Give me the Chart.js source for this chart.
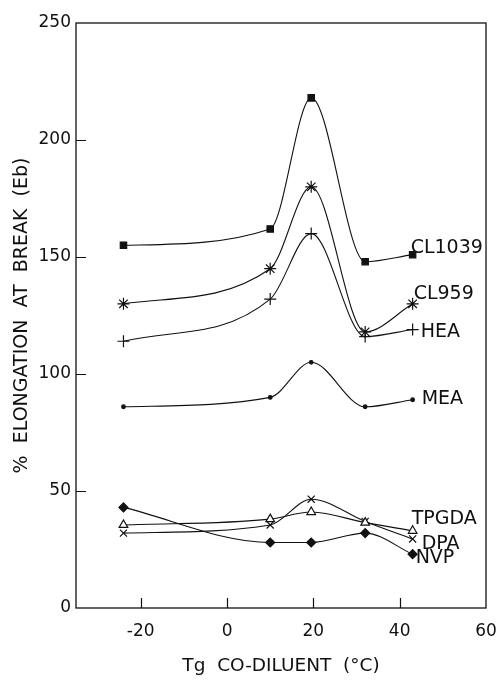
<!DOCTYPE html>
<html>
<head>
<meta charset="utf-8">
<script src="https://cdn.jsdelivr.net/npm/chart.js@4.4.1/dist/chart.umd.min.js"></script>
<style>
  html, body { margin: 0; padding: 0; background: #fff; }
</style>
</head>
<body>
<canvas id="elongChart" width="498" height="680"></canvas>
<script>
// Tg of each co-diluent (°C)
const tgValues = [-24, 10, 19.5, 32, 43];

// elongation at break (%) per formulation
const cl1039 = [155, 162, 218, 148, 151];
const cl959 = [130, 145, 180, 118, 130];
const hea = [114, 132, 160, 116, 119];
const mea = [86, 90, 105, 86, 89];
const tpgda = [35.5, 38, 41, 36.5, 33];
const dpa = [32, 35.5, 46.5, 37, 29.5];
const nvp = [43, 28, 28, 32, 23];

const seriesNames = ["CL1039", "CL959", "HEA", "MEA", "TPGDA", "DPA", "NVP"];
const xTicks = [-20, 0, 20, 40, 60];
const yTicks = [0, 50, 100, 150, 200, 250];

const INK = "#111";
const FONT = "'DejaVu Sans', sans-serif";

// marker look for each curve
const markers = [
  { pointStyle: "rect", radius: 4.5, fill: INK },
  { pointStyle: "star", radius: 6, fill: INK },
  { pointStyle: "cross", radius: 6, fill: INK },
  { pointStyle: "circle", radius: 1.8, fill: INK },
  { pointStyle: "triangle", radius: 5, fill: "#fff" },
  { pointStyle: "crossRot", radius: 5, fill: INK },
  { pointStyle: "rectRot", radius: 4.5, fill: INK }
];

// where each curve name sits relative to its last point
const labelOffsets = [[-2, -7], [1, -10], [8, 3], [9, -1], [-1, -12], [9, 5], [3, 4]];

const allSeries = [cl1039, cl959, hea, mea, tpgda, dpa, nvp];

const datasets = allSeries.map((vals, i) => ({
  label: seriesNames[i],
  data: vals.map((v, j) => ({ x: tgValues[j], y: v })),
  borderColor: INK,
  borderWidth: 1.1,
  cubicInterpolationMode: "monotone",
  pointStyle: markers[i].pointStyle,
  pointRadius: markers[i].radius,
  pointBackgroundColor: markers[i].fill,
  pointBorderColor: INK,
  pointBorderWidth: 1.2,
  clip: false
}));

// box around the plot, inward tick marks and the curve names
const framePlugin = {
  id: "frame",
  afterDatasetsDraw(chart) {
    const { ctx, chartArea: a, scales: { x, y } } = chart;
    ctx.save();
    ctx.strokeStyle = INK;
    ctx.lineWidth = 1.3;
    ctx.strokeRect(a.left, a.top, a.right - a.left, a.bottom - a.top);

    ctx.lineWidth = 1.2;
    ctx.beginPath();
    xTicks.forEach(v => {
      if (v <= x.min || v >= x.max) return;
      const px = Math.round(x.getPixelForValue(v)) + 0.5;
      ctx.moveTo(px, a.bottom);
      ctx.lineTo(px, a.bottom - 10);
    });
    yTicks.forEach(v => {
      if (v <= y.min || v >= y.max) return;
      const py = Math.round(y.getPixelForValue(v)) + 0.5;
      ctx.moveTo(a.left, py);
      ctx.lineTo(a.left + 10, py);
    });
    ctx.stroke();

    ctx.fillStyle = INK;
    ctx.font = "19px " + FONT;
    ctx.textAlign = "left";
    ctx.textBaseline = "middle";
    chart.data.datasets.forEach((ds, i) => {
      const pts = chart.getDatasetMeta(i).data;
      const last = pts[pts.length - 1];
      ctx.fillText(ds.label, last.x + labelOffsets[i][0], last.y + labelOffsets[i][1]);
    });
    ctx.restore();
  }
};

new Chart(document.getElementById("elongChart"), {
  type: "line",
  data: { datasets },
  options: {
    responsive: false,
    animation: false,
    layout: { padding: { top: 23, right: 12, left: 0, bottom: 0 } },
    plugins: { legend: { display: false }, tooltip: { enabled: false } },
    scales: {
      x: {
        type: "linear",
        min: -35,
        max: 60,
        afterBuildTicks: s => { s.ticks = xTicks.map(v => ({ value: v })); },
        afterFit: s => { s.height = 72; s.paddingLeft = 0; s.paddingRight = 0; },
        grid: { display: false, drawTicks: false },
        border: { display: false },
        ticks: { color: INK, padding: 13, maxRotation: 0, font: { family: FONT, size: 17 } },
        title: {
          display: true,
          text: "Tg  CO-DILUENT  (°C)",
          color: INK,
          font: { family: FONT, size: 18.5 },
          padding: { top: 0, bottom: 3 }
        }
      },
      y: {
        min: 0,
        max: 250,
        afterBuildTicks: s => { s.ticks = yTicks.map(v => ({ value: v })); },
        afterFit: s => { s.width = 76; s.paddingTop = 0; s.paddingBottom = 0; },
        grid: { display: false, drawTicks: false },
        border: { display: false },
        ticks: { color: INK, padding: 5, font: { family: FONT, size: 17 } },
        title: {
          display: true,
          text: "%  ELONGATION  AT  BREAK  (Eb)",
          color: INK,
          font: { family: FONT, size: 19 },
          padding: { top: 11, bottom: 0 }
        }
      }
    }
  },
  plugins: [framePlugin]
});
</script>
</body>
</html>
